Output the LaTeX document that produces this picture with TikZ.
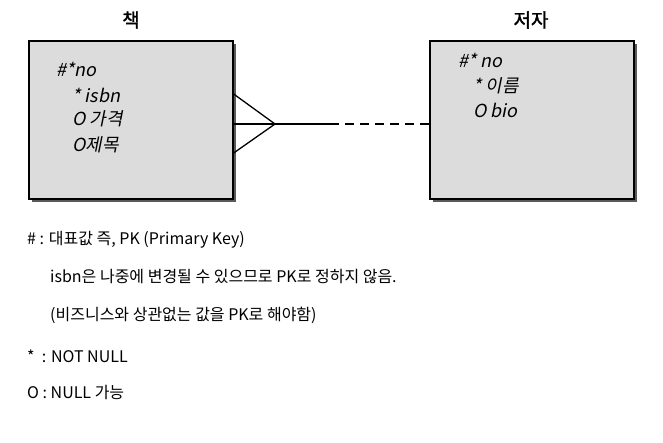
\documentclass[tikz,border=0pt]{standalone}
\usepackage{fontspec}
\setmainfont{Noto Sans CJK KR}
\newfontfamily\krit[FakeSlant=0.2]{Noto Sans CJK KR}
\newfontfamily\krbold[FakeBold=1.5]{Noto Sans CJK KR}
\definecolor{boxgray}{RGB}{220,220,220}
\definecolor{shadowgray}{RGB}{90,90,90}
\tikzset{
  entity/.style={draw=black, line width=1.3pt, fill=boxgray, minimum width=204pt, minimum height=158pt, inner sep=0pt},
  shadowbox/.style={fill=shadowgray, minimum width=204pt, minimum height=158pt, inner sep=0pt},
  title/.style={font=\krbold\fontsize{19}{21}\selectfont, inner sep=0pt},
  attr/.style={font=\krit\fontsize{18}{20}\selectfont, anchor=west, inner sep=0pt},
  note/.style={font=\fontsize{16}{18}\selectfont, anchor=west, inner sep=0pt},
  rel/.style={line width=1.3pt}
}
\begin{document}
\begin{tikzpicture}[x=1pt,y=-1pt]
\useasboundingbox (0,0) rectangle (663,442);
% shadows
\node[shadowbox] at (133.5,122.5) {};
\node[shadowbox] at (534.5,122.5) {};
% entities
\node[entity] (book) at (131,120) {};
\node[entity] (author) at (532,120) {};
\node[title] (t1) at (131,20) {책};
\node[title] (t2) at (531,20) {저자};
% attributes
\node[attr] (b1) at (56,69) {\#*no};
\node[attr] (b2) at (72,95) {* isbn};
\node[attr] (b3) at (72,119) {O 가격};
\node[attr] (b4) at (72,145) {O제목};
\node[attr] (a1) at (458,60) {\#* no};
\node[attr] (a2) at (473,86) {* 이름};
\node[attr] (a3) at (473,110) {O bio};
% relationship
\coordinate (tip) at (275,124);
\coordinate (mid) at (330,124);
\draw[rel] (book.east |- 0,94) -- (tip) -- (book.east |- 0,153);
\draw[rel] (book.east |- tip) -- (tip) -- (mid);
\draw[rel, dash pattern=on 9pt off 6pt] (mid) -- (author.west |- mid);
% notes
\node[note] (n1) at (27,240) {\# : 대표값 즉,\ PK (Primary Key)};
\node[note] (n2) at (50,277) {isbn은 나중에 변경될 수 있으므로 PK로 정하지 않음.};
\node[note] (n3) at (50,315) {(비즈니스와 상관없는 값을 PK로 해야함)};
\node[note] (n4) at (27,356) {*\ \ : NOT NULL};
\node[note] (n5) at (27,392) {O : NULL 가능};
\end{tikzpicture}
\end{document}
